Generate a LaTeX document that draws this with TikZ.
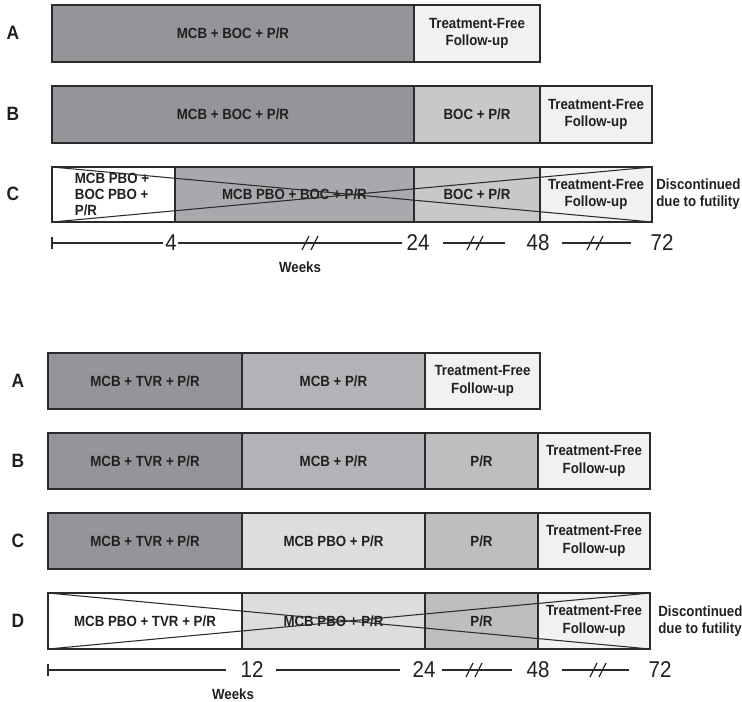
\documentclass[tikz,border=0pt]{standalone}
\usepackage{fontspec}
\setmainfont{Liberation Sans}
\newfontfamily\narrowfont{Liberation Sans}[FakeStretch=0.9]
\definecolor{armdark}{HTML}{939598}
\definecolor{armmid}{HTML}{A7A9AC}
\definecolor{armboc}{HTML}{C7C8CA}
\definecolor{armmcb}{HTML}{B1B3B6}
\definecolor{armpr}{HTML}{BCBEC0}
\definecolor{armpbo}{HTML}{DCDDDF}
\definecolor{armfree}{HTML}{F1F1F2}
\definecolor{edge}{HTML}{2B2B2B}
\definecolor{ink}{HTML}{231F20}

\begin{document}
\begin{tikzpicture}[x=0.02cm, y=-0.02cm,
    bar/.style={draw=edge, line width=0.9pt},
    cross/.style={draw=edge, line width=0.6pt},
    axis/.style={draw=edge, line width=0.7pt},
    lbl/.style={font=\narrowfont\bfseries\fontsize{8.4}{9.8}\selectfont, align=center, text=ink},
    arm/.style={font=\narrowfont\bfseries\fontsize{11}{13}\selectfont, text=ink},
    num/.style={font=\narrowfont\fontsize{13}{15}\selectfont, text=ink, inner sep=0pt}]
    \useasboundingbox (0,0) rectangle (742,701);

    % ---------- Top panel ----------
    % Arm A
    \node[arm] (topA) at (13,33) {A};
    \draw[bar, fill=armdark] (52,5) rectangle (414,62);
    \draw[bar, fill=armfree] (414,5) rectangle (540,62);
    \node[lbl] (topAone) at (233,33.5) {MCB + BOC + P/R};
    \node[lbl] (topAfree) at (477,33.5) {Treatment-Free\\Follow-up};

    % Arm B
    \node[arm] (topB) at (13,114) {B};
    \draw[bar, fill=armdark] (52,86) rectangle (414,143);
    \draw[bar, fill=armboc] (414,86) rectangle (540,143);
    \draw[bar, fill=armfree] (540,86) rectangle (652,143);
    \node[lbl] (topBone) at (233,114.5) {MCB + BOC + P/R};
    \node[lbl] (topBtwo) at (477,114.5) {BOC + P/R};
    \node[lbl] (topBfree) at (596,114.5) {Treatment-Free\\Follow-up};

    % Arm C (stopped)
    \node[arm] (topC) at (13,194) {C};
    \draw[bar, fill=white] (52,167) rectangle (175,222);
    \draw[bar, fill=armmid] (175,167) rectangle (414,222);
    \draw[bar, fill=armboc] (414,167) rectangle (540,222);
    \draw[bar, fill=armfree] (540,167) rectangle (652,222);
    \node[lbl, align=left, font=\narrowfont\bfseries\fontsize{8.4}{9}\selectfont] (topCone) at (112,194.5) {MCB PBO +\\BOC PBO +\\P/R};
    \node[lbl] (topCtwo) at (294.5,194.5) {MCB PBO + BOC + P/R};
    \node[lbl] (topCthree) at (477,194.5) {BOC + P/R};
    \node[lbl] (topCfree) at (596,194.5) {Treatment-Free\\Follow-up};
    \draw[cross] (52,167) -- (652,222);
    \draw[cross] (52,222) -- (652,167);
    \node[lbl, align=left, anchor=west, inner sep=0pt] (topStop) at (656,194) {Discontinued\\due to futility};

    % Weeks axis
    \draw[axis] (52,237) -- (52,249);
    \draw[axis] (52,243) -- (163,243);
    \node[num] (topWfour) at (171,243) {4};
    \draw[axis] (178,243) -- (402,243);
    \node[num] (topWtf) at (418,243) {24};
    \draw[axis] (443,243) -- (505,243);
    \node[num] (topWfe) at (538,243) {48};
    \draw[axis] (562,243) -- (631,243);
    \node[num] (topWst) at (662,243) {72};
    \node[lbl] (topWeeks) at (300,267) {Weeks};

    % ---------- Bottom panel ----------
    % Arm A
    \node[arm] (botA) at (18,381) {A};
    \draw[bar, fill=armdark] (48,353) rectangle (242,409);
    \draw[bar, fill=armmcb] (242,353) rectangle (425,409);
    \draw[bar, fill=armfree] (425,353) rectangle (540,409);
    \node[lbl] (botAone) at (145,381) {MCB + TVR + P/R};
    \node[lbl] (botAtwo) at (333.5,381) {MCB + P/R};
    \node[lbl] (botAfree) at (482.5,381) {Treatment-Free\\Follow-up};

    % Arm B
    \node[arm] (botB) at (18,461) {B};
    \draw[bar, fill=armdark] (48,433) rectangle (242,489);
    \draw[bar, fill=armmcb] (242,433) rectangle (425,489);
    \draw[bar, fill=armpr] (425,433) rectangle (538,489);
    \draw[bar, fill=armfree] (538,433) rectangle (650,489);
    \node[lbl] (botBone) at (145,461) {MCB + TVR + P/R};
    \node[lbl] (botBtwo) at (333.5,461) {MCB + P/R};
    \node[lbl] (botBthree) at (481.5,461) {P/R};
    \node[lbl] (botBfree) at (594,461) {Treatment-Free\\Follow-up};

    % Arm C
    \node[arm] (botC) at (18,541) {C};
    \draw[bar, fill=armdark] (48,513) rectangle (242,569);
    \draw[bar, fill=armpbo] (242,513) rectangle (425,569);
    \draw[bar, fill=armpr] (425,513) rectangle (538,569);
    \draw[bar, fill=armfree] (538,513) rectangle (650,569);
    \node[lbl] (botCone) at (145,541) {MCB + TVR + P/R};
    \node[lbl] (botCtwo) at (333.5,541) {MCB PBO + P/R};
    \node[lbl] (botCthree) at (481.5,541) {P/R};
    \node[lbl] (botCfree) at (594,541) {Treatment-Free\\Follow-up};

    % Arm D (stopped)
    \node[arm] (botD) at (18,621) {D};
    \draw[bar, fill=white] (48,593) rectangle (242,649);
    \draw[bar, fill=armpbo] (242,593) rectangle (425,649);
    \draw[bar, fill=armpr] (425,593) rectangle (538,649);
    \draw[bar, fill=armfree] (538,593) rectangle (650,649);
    \node[lbl] (botDone) at (145,621) {MCB PBO + TVR + P/R};
    \node[lbl] (botDtwo) at (333.5,621) {MCB PBO + P/R};
    \node[lbl] (botDthree) at (481.5,621) {P/R};
    \node[lbl] (botDfree) at (594,621) {Treatment-Free\\Follow-up};
    \draw[cross] (48,593) -- (650,649);
    \draw[cross] (48,649) -- (650,593);
    \node[lbl, align=left, anchor=west, inner sep=0pt] (botStop) at (658,621) {Discontinued\\due to futility};

    % Weeks axis
    \draw[axis] (48,664) -- (48,676);
    \draw[axis] (48,670) -- (226,670);
    \node[num] (botWtw) at (252,670) {12};
    \draw[axis] (276,670) -- (400,670);
    \node[num] (botWtf) at (424,670) {24};
    \draw[axis] (442,670) -- (512,670);
    \node[num] (botWfe) at (538,670) {48};
    \draw[axis] (562,670) -- (629,670);
    \node[num] (botWst) at (660,670) {72};
    \node[lbl] (botWeeks) at (233,694) {Weeks};

    % Axis breaks
    \foreach \bx/\by in {310/243, 475/243, 595/243, 474/670, 598/670} {
        \draw[axis] (\bx-8,\by+7) -- (\bx-1,\by-7);
        \draw[axis] (\bx+1,\by+7) -- (\bx+8,\by-7);
    }
\end{tikzpicture}
\end{document}
